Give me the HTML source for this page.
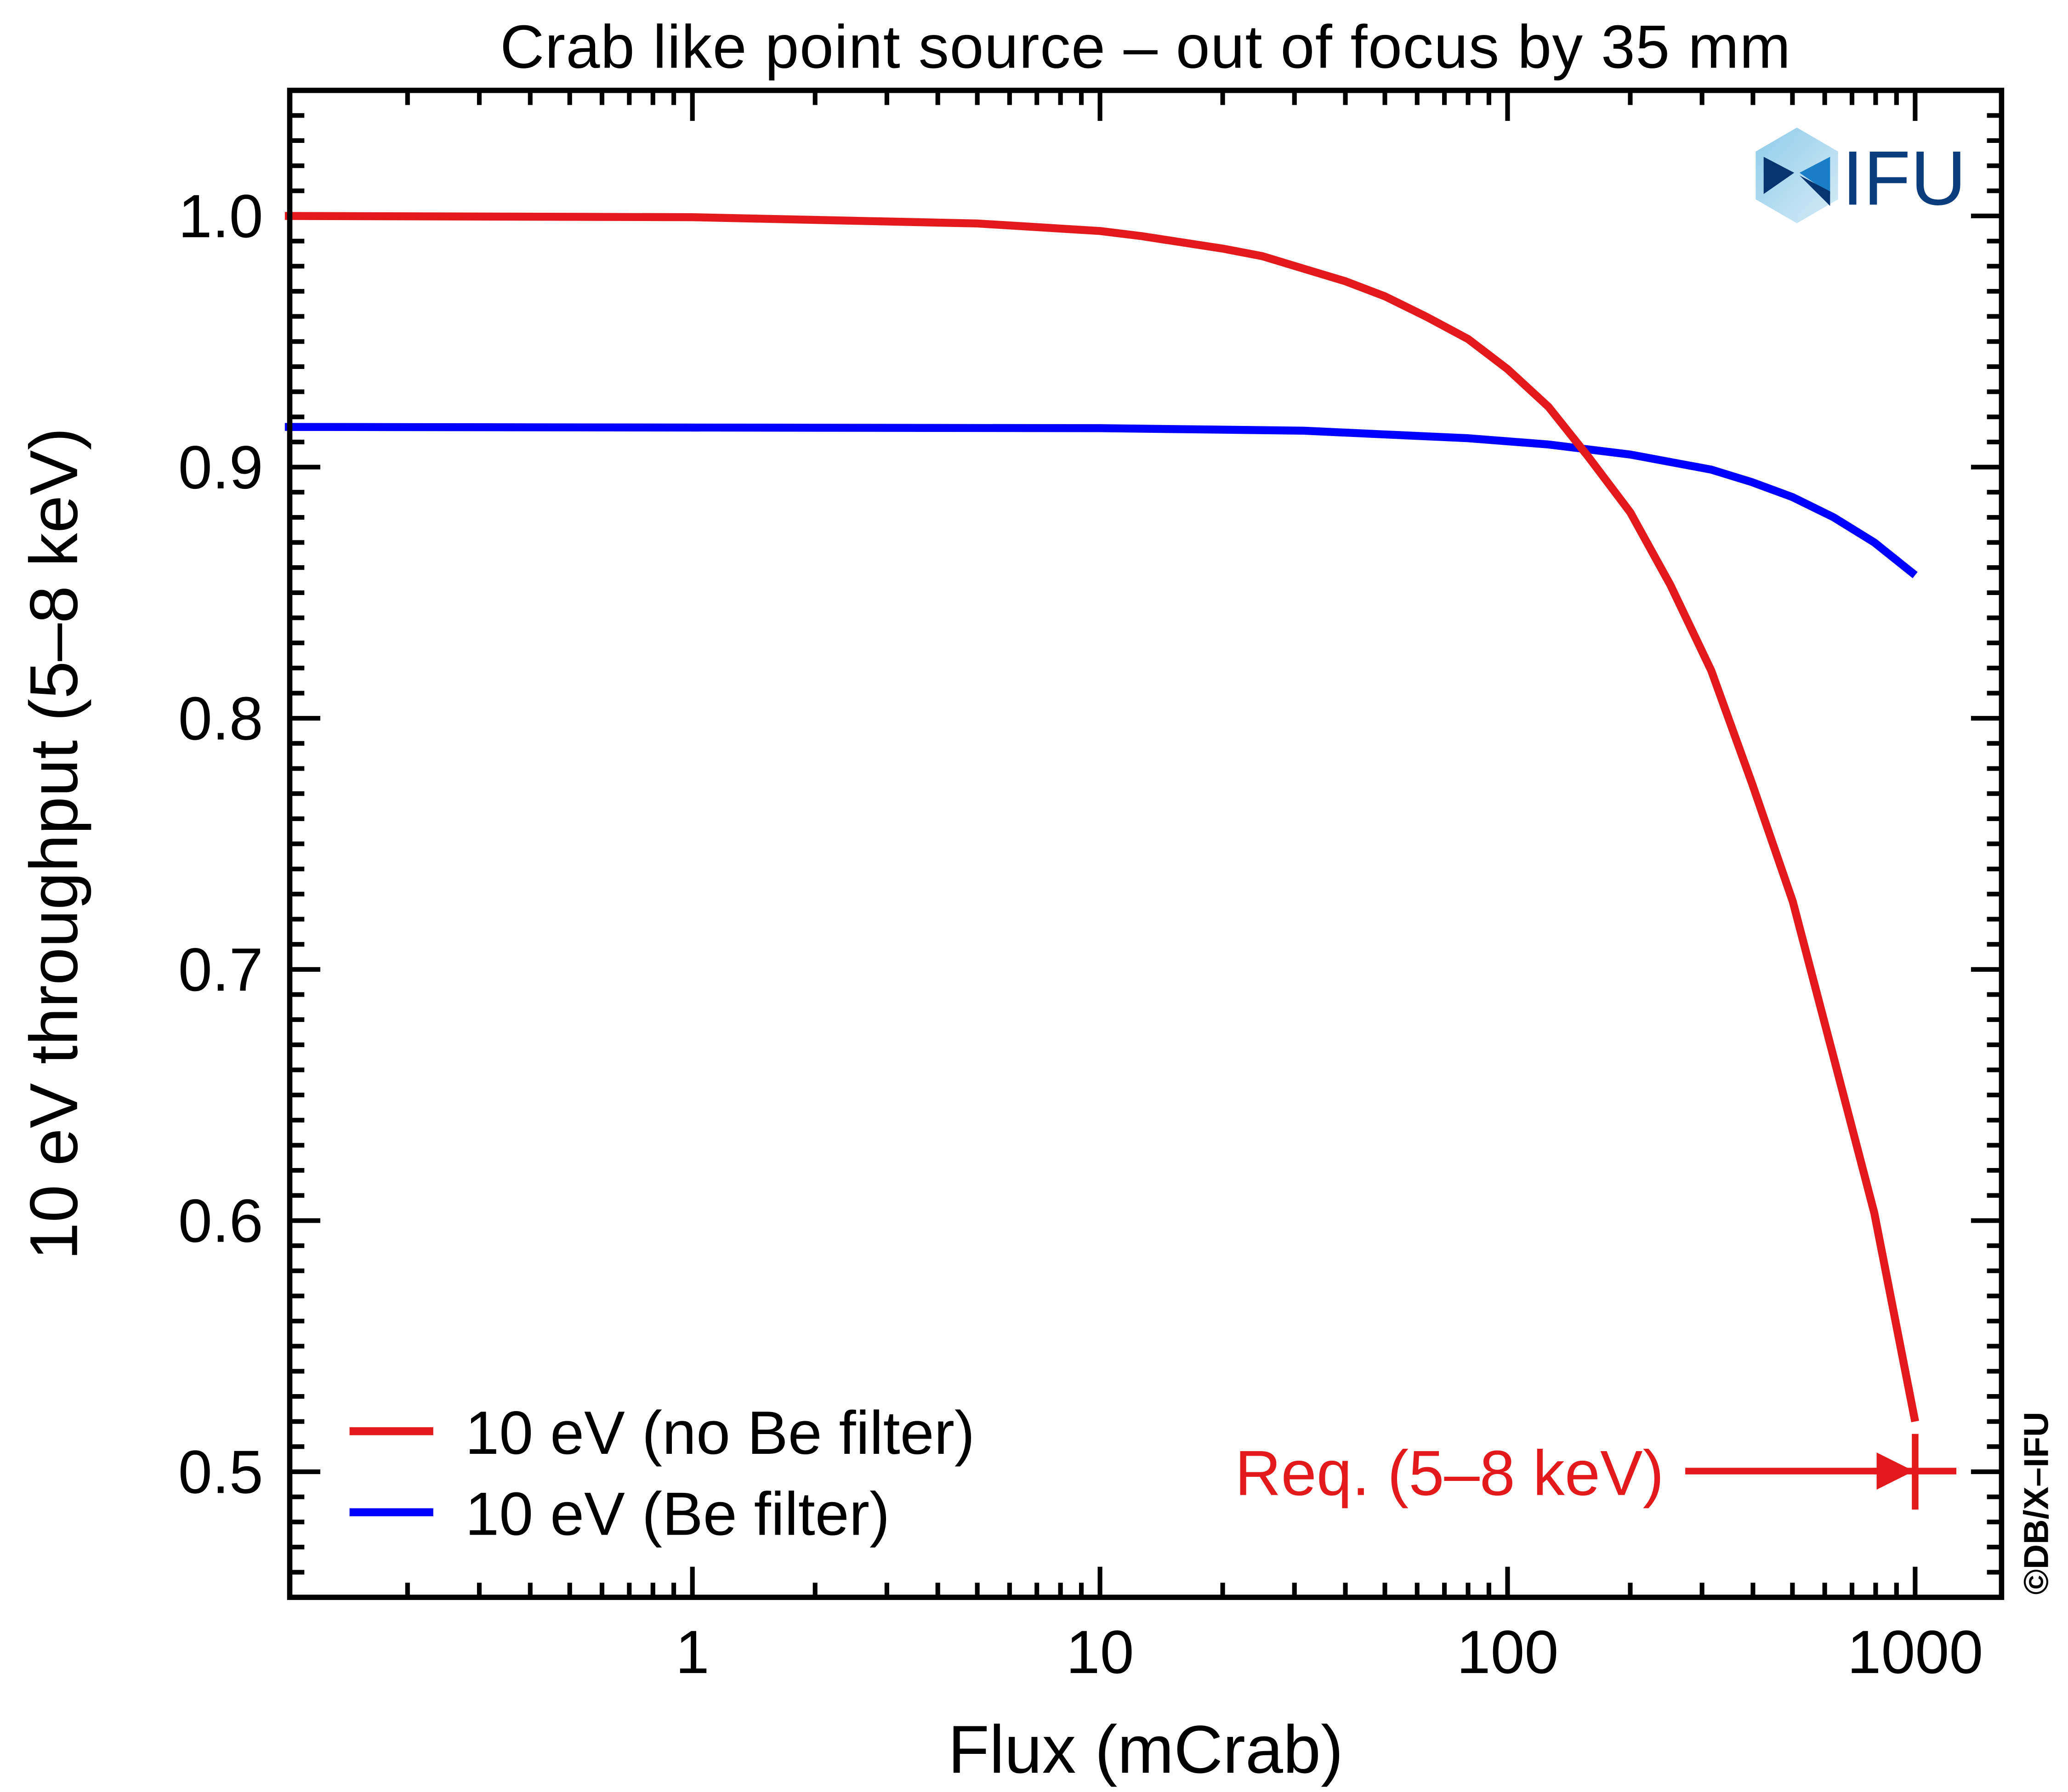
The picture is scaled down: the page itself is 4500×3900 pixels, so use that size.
<!DOCTYPE html>
<html><head><meta charset="utf-8"><style>
html,body{margin:0;padding:0;background:#fff}
svg{display:block}
text{font-family:"Liberation Sans",sans-serif}
</style></head><body>
<svg id="chart" width="4500" height="3900" viewBox="0 0 1556 1348.5" preserveAspectRatio="none" xmlns="http://www.w3.org/2000/svg">
<rect width="1556" height="1348.5" fill="#fff"/>
<text x="862" y="51" font-size="46" letter-spacing="0.5" text-anchor="middle">Crab like point source – out of focus by 35 mm</text>
<g id="ticks"></g>
<g id="series"></g>
<rect x="218" y="68" width="1288" height="1134" fill="none" stroke="#000" stroke-width="4"/>
<text x="862" y="1334" font-size="51" text-anchor="middle">Flux (mCrab)</text>
<text transform="translate(58,635) rotate(-90)" font-size="51" text-anchor="middle">10 eV throughput (5–8 keV)</text>
<g>
<line x1="263" y1="1077" x2="326" y2="1077" stroke="#e31a1c" stroke-width="6"/>
<text x="350" y="1094" font-size="46">10 eV (no Be filter)</text>
<line x1="263" y1="1138" x2="326" y2="1138" stroke="#0000ff" stroke-width="6"/>
<text x="350" y="1155" font-size="46">10 eV (Be filter)</text>
</g>
<g>
<text x="1252" y="1125" font-size="48" fill="#e31a1c" text-anchor="end">Req. (5–8 keV)</text>
<line x1="1268" y1="1107" x2="1418" y2="1107" stroke="#e31a1c" stroke-width="5"/>
<polygon points="1412,1093 1440,1107 1412,1121" fill="#e31a1c"/>
<line x1="1410" y1="1107" x2="1472" y2="1107" stroke="#e31a1c" stroke-width="5"/>
<line x1="1441" y1="1079" x2="1441" y2="1136" stroke="#e31a1c" stroke-width="5"/>
</g>
<text transform="translate(1541,1200) rotate(-90)" font-size="26" font-weight="bold">©DB/X–IFU</text>
<g>
<defs><linearGradient id="lg" x1="0" y1="0" x2="1" y2="1"><stop offset="0" stop-color="#8fcbea"/><stop offset="1" stop-color="#d6ecf7"/></linearGradient></defs>
<polygon points="1352,96 1383,114 1383,150 1352,168 1321,150 1321,114" fill="url(#lg)"/>
<polygon points="1327,118 1350,130 1327,146" fill="#07336f"/>
<polygon points="1377,118 1354,130 1377,146" fill="#1a7ec6"/>
<polygon points="1377,144 1354,132 1377,155" fill="#07336f"/>
<text x="1386" y="154" font-size="58" fill="#0b3c7d">IFU</text>
</g>
</svg>
<script>
const xTickValues=[1,10,100,1000];
const xTickLabels=["1","10","100","1000"];
const yTickValues=[0.5,0.6,0.7,0.8,0.9,1.0];
const yTickLabels=["0.5","0.6","0.7","0.8","0.9","1.0"];
const redFlux=[0.1,1,5,10,12.6,20,25,31.6,40,50,63,80,100,126,158,200,251,316,398,501,631,794,1000];
const redValues=[1.0,0.9995,0.997,0.994,0.992,0.987,0.984,0.979,0.974,0.968,0.960,0.951,0.939,0.924,0.904,0.882,0.853,0.819,0.774,0.727,0.665,0.603,0.52];
const blueFlux=[0.1,10,31.6,50,80,126,200,316,398,501,631,794,1000];
const blueValues=[0.916,0.9155,0.9145,0.913,0.9115,0.909,0.905,0.899,0.894,0.888,0.880,0.870,0.857];
const L=218,R=1506,T=68,B=1202;
const lx0=-0.988,lx1=3.212,y0=0.45,y1=1.05;
function X(v){return L+(Math.log10(v)-lx0)/(lx1-lx0)*(R-L);}
function Y(v){return B-(v-y0)/(y1-y0)*(B-T);}
const NS="http://www.w3.org/2000/svg";
const tg=document.getElementById('ticks'),sg=document.getElementById('series');
function ln(g,x1,y1,x2,y2,w,c){const e=document.createElementNS(NS,'line');e.setAttribute('x1',x1);e.setAttribute('y1',y1);e.setAttribute('x2',x2);e.setAttribute('y2',y2);e.setAttribute('stroke',c||'#000');e.setAttribute('stroke-width',w);g.appendChild(e);return e;}
function tx(g,x,y,s,anchor){const e=document.createElementNS(NS,'text');e.setAttribute('x',x);e.setAttribute('y',y);e.setAttribute('font-size',46);e.setAttribute('text-anchor',anchor);e.textContent=s;g.appendChild(e);return e;}
for(let d=-1;d<=3;d++){for(let m=1;m<10;m++){const v=m*Math.pow(10,d);const x=X(v);if(x<L||x>R)continue;const len=m===1?23:11;
const a=ln(tg,x,B,x,B-len,3.5);


const b=ln(tg,x,T,x,T+len,3.5);

}}
xTickValues.forEach((v,i)=>{const t=tx(tg,X(v),1259,xTickLabels[i],'middle');

});
for(let k=45;k<=105;k++){const v=k/100,y=Y(v);const len=k%10===0?23:11;
const a=ln(tg,L,y,L+len,y,3.5);


const b=ln(tg,R,y,R-len,y,3.5);

}
yTickValues.forEach((v,i)=>{const t=tx(tg,198,Y(v)+16,yTickLabels[i],'end');

});
function path(xs,ys,c,name){const p=document.createElementNS(NS,'polyline');p.setAttribute('points',xs.map((x,i)=>X(x)+','+Y(ys[i])).join(' '));p.setAttribute('fill','none');p.setAttribute('stroke',c);p.setAttribute('stroke-width',6);p.setAttribute('stroke-linejoin','round');


sg.appendChild(p);}
path(blueFlux,blueValues,'#0000ff','series-be-filter');
path(redFlux,redValues,'#e31a1c','series-no-be-filter');
</script>
</body></html>
